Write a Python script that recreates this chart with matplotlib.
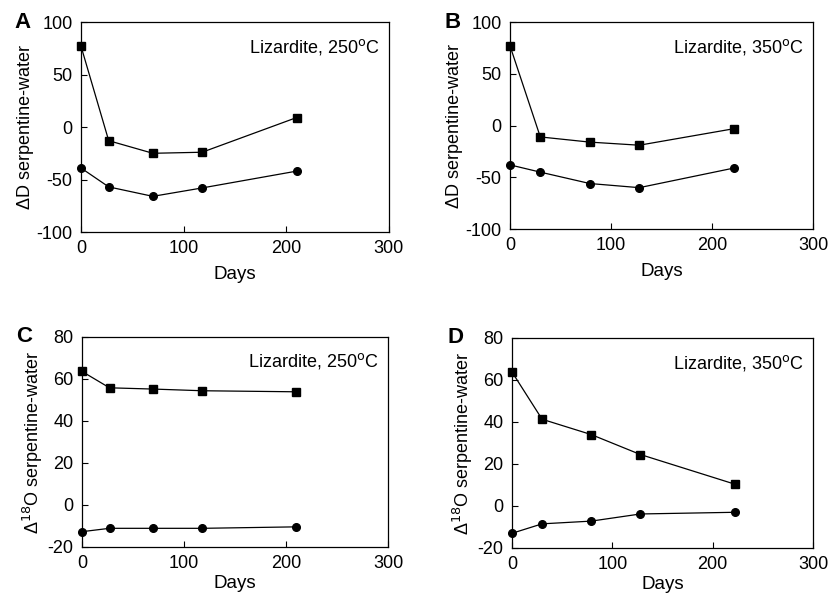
import matplotlib.pyplot as plt

plt.rcParams['font.family'] = ['Liberation Sans', 'DejaVu Sans']
plt.rcParams['axes.unicode_minus'] = False

# Days sampled for each run
days_250 = [0, 27, 70, 118, 210]
days_350 = [0, 30, 79, 128, 222]

# Delta D serpentine-water (squares / circles)
dD_250_sq = [77, -13, -25, -24, 9]
dD_250_ci = [-39, -57, -66, -58, -42]
dD_350_sq = [77, -11, -16, -19, -3]
dD_350_ci = [-38, -45, -56, -60, -41]

# Delta 18O serpentine-water
d18O_250_sq = [63.5, 55.7, 55.1, 54.3, 53.8]
d18O_250_ci = [-12.8, -11.2, -11.2, -11.2, -10.5]
d18O_350_sq = [63.8, 41.3, 34.0, 24.5, 10.4]
d18O_350_ci = [-13.0, -8.5, -7.2, -3.8, -3.0]

panels = [
    ('A', days_250, dD_250_sq, dD_250_ci, '250', 'dD'),
    ('B', days_350, dD_350_sq, dD_350_ci, '350', 'dD'),
    ('C', days_250, d18O_250_sq, d18O_250_ci, '250', 'O'),
    ('D', days_350, d18O_350_sq, d18O_350_ci, '350', 'O'),
]

# axes boxes in figure fraction
boxes = [
    [0.0977, 0.610, 0.3715, 0.353],
    [0.6152, 0.615, 0.3655, 0.348],
    [0.0989, 0.081, 0.3691, 0.353],
    [0.6176, 0.079, 0.3631, 0.353],
]

fig = plt.figure(figsize=(8.29, 5.95), dpi=100)

for (letter, x, sq, ci, temp, kind), box in zip(panels, boxes):
    ax = fig.add_axes(box)
    ax.plot(x, sq, color='black', lw=0.9, marker='s', ms=6, clip_on=False, zorder=3)
    ax.plot(x, ci, color='black', lw=0.9, marker='o', ms=5.5, clip_on=False, zorder=3)
    ax.set_xlim(0, 300)
    ax.set_xticks([0, 100, 200, 300])
    if kind == 'dD':
        ax.set_ylim(-100, 100)
        ax.set_yticks([-100, -50, 0, 50, 100])
        ax.set_ylabel('\u0394D serpentine-water', fontsize=13, labelpad=2)
        ax.set_xlabel('Days', fontsize=13.5, labelpad=6)
    else:
        ax.set_ylim(-20, 80)
        ax.set_yticks([-20, 0, 20, 40, 60, 80])
        ax.set_ylabel('\u0394$^{18}$O serpentine-water', fontsize=13, labelpad=2)
        ax.set_xlabel('Days', fontsize=13.5, labelpad=2)
    ax.tick_params(direction='in', labelsize=13, length=4, width=0.8, pad=6)
    for sp in ax.spines.values():
        sp.set_linewidth(0.9)
    ax.text(0.97, 0.93, 'Lizardite, ' + temp + '$^{\\mathrm{o}}$C', transform=ax.transAxes,
            ha='right', va='top', fontsize=13)
    ax.text(-0.215, 1.0, letter, transform=ax.transAxes, fontsize=16,
            fontweight='bold', ha='left', va='center')

fig.savefig('out.png', dpi=100)
